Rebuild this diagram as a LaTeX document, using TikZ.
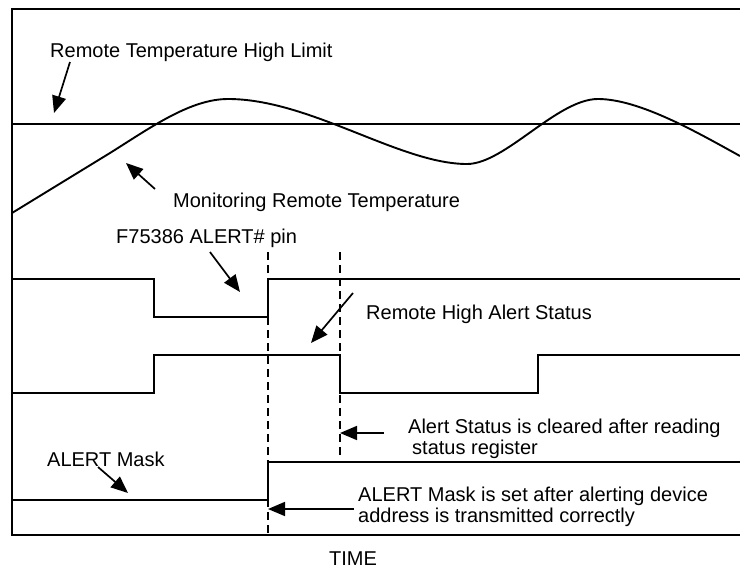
\documentclass[tikz,border=0pt]{standalone}
\usepackage{fontspec}
\setmainfont{Liberation Sans}
\usetikzlibrary{arrows.meta}
\begin{document}
\begin{tikzpicture}[x=1pt,y=-1pt,
  lbl/.style={inner sep=0pt,anchor=base west,font=\fontsize{20}{23}\selectfont},
  sig/.style={line width=1.9pt,line join=miter},
  dashln/.style={line width=1.7pt,dash pattern=on 8pt off 5pt},
  arr/.style={line width=1.7pt,-{Triangle[length=17pt,width=14pt]}}]
\useasboundingbox (0,0) rectangle (740,568);
% frame
\draw[sig] (740,9) -- (12,9) -- (12,535) -- (740,535);
% high limit line
\draw[sig] (12,124) -- (740,124);
% temperature curve
\draw[sig,line join=round] (12,213) -- (110,153)
  .. controls (150,128) and (190,99) .. (228,99)
  .. controls (310,99) and (400,164) .. (467,164)
  .. controls (505,164) and (557,99) .. (598,99)
  .. controls (640,99) and (700,134) .. (740,156);
% ALERT# pin
\draw[sig] (12,279) -- (154,279) -- (154,317) -- (268,317) -- (268,279) -- (740,279);
% Remote high alert status
\draw[sig] (12,393) -- (154,393) -- (154,355) -- (340,355) -- (340,393) -- (538,393) -- (538,355) -- (740,355);
% ALERT mask
\draw[sig] (12,500) -- (268,500) -- (268,462) -- (740,462);
% dashed markers
\coordinate (d1t) at (268,252); \coordinate (d1b) at (268,535);
\coordinate (d2t) at (340,252); \coordinate (d2b) at (340,456);
\draw[dashln] (d1t) -- (d1b);
\draw[dashln] (d2t) -- (d2b);
% labels
\node[lbl] (lim) at (50,57) {Remote Temperature High Limit};
\node[lbl] (mon) at (173,207) {Monitoring Remote Temperature};
\node[lbl] (pin) at (116,243) {F75386 ALERT\# pin};
\node[lbl] (sts) at (366,319) {Remote High Alert Status};
\node[lbl] (clr1) at (408,433) {Alert Status is cleared after reading};
\node[lbl] (clr2) at (412,454) {status register};
\node[lbl] (msk) at (47,466) {ALERT Mask};
\node[lbl] (set1) at (358,501) {ALERT Mask is set after alerting device};
\node[lbl] (set2) at (358,522) {address is transmitted correctly};
\node[lbl,anchor=base] (time) at (353,565) {TIME};
% arrows
\coordinate (a1s) at (70,62);   \coordinate (a1e) at (54,113);
\coordinate (a2s) at (155,189); \coordinate (a2e) at (126,163);
\coordinate (a3s) at (210,252); \coordinate (a3e) at (240,292);
\coordinate (a4s) at (353,293); \coordinate (a4e) at (311,343);
\coordinate (a5s) at (384,433); \coordinate (a5e) at (340,433);
\coordinate (a6s) at (98,467);  \coordinate (a6e) at (128,493);
\coordinate (a7s) at (354,509); \coordinate (a7e) at (268,509);
\draw[arr] (a1s) -- (a1e);
\draw[arr] (a2s) -- (a2e);
\draw[arr] (a3s) -- (a3e);
\draw[arr] (a4s) -- (a4e);
\draw[arr] (a5s) -- (a5e);
\draw[arr] (a6s) -- (a6e);
\draw[arr] (a7s) -- (a7e);
\end{tikzpicture}
\end{document}
